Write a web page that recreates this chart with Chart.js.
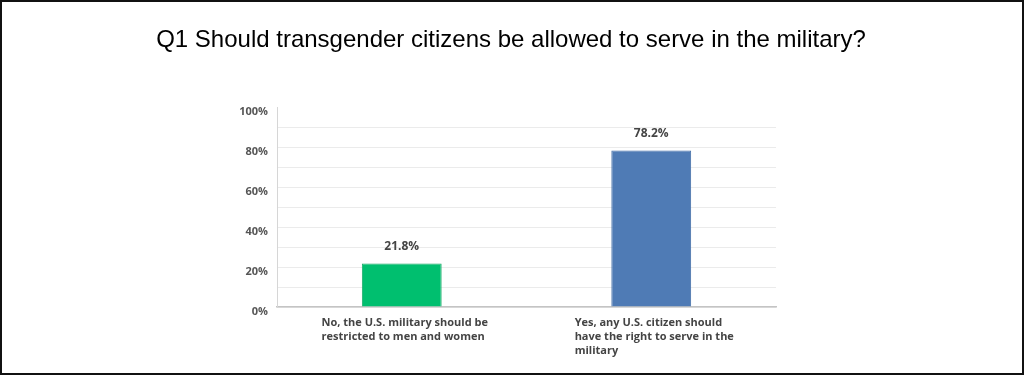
<!DOCTYPE html>
<html>
<head>
<meta charset="utf-8">
<script src="https://cdn.jsdelivr.net/npm/chart.js@4"></script>
<style>
  html, body { margin: 0; padding: 0; background: #fff; }
  #wrap { position: relative; width: 1024px; height: 375px; box-sizing: border-box; border: 2px solid #111; }
  canvas { position: absolute; left: -2px; top: -2px; }
</style>
</head>
<body>
<div id="wrap"><canvas id="chart" width="1024" height="375"></canvas></div>
<script>
// chart data
const titleText = "Q1 Should transgender citizens be allowed to serve in the military?";
const categories = [
  ["No, the U.S. military should be", "restricted to men and women"],
  ["Yes, any U.S. citizen should", "have the right to serve in the", "military"]
];
const values = [21.8, 78.2];
const barColors = ["#00bf6f", "#4f7bb5"];
const barBorders = ["#16a765", "#416da6"];
const yTicks = [0, 20, 40, 60, 80, 100];

const labelFamily = "'Open Sans', 'Liberation Sans', sans-serif";
const tickFont = { family: labelFamily, size: 11, weight: "bold" };

// title across the whole canvas (the built-in one gets squeezed by the side padding)
const titlePlugin = {
  id: "bigTitle",
  afterDraw(chart) {
    const ctx = chart.ctx;
    ctx.save();
    ctx.font = "24px Arial, 'Liberation Sans', sans-serif";
    ctx.fillStyle = "#000";
    ctx.textAlign = "center";
    ctx.textBaseline = "middle";
    ctx.fillText(titleText, chart.width / 2 - 1, 40);
    ctx.restore();
  }
};

// value labels above the bars + left aligned category labels
const labelsPlugin = {
  id: "labels",
  afterDatasetsDraw(chart) {
    const ctx = chart.ctx;
    const meta = chart.getDatasetMeta(0);
    ctx.save();
    ctx.font = "bold 12px " + labelFamily;
    ctx.fillStyle = "#444";
    ctx.textAlign = "center";
    ctx.textBaseline = "bottom";
    meta.data.forEach((bar, i) => {
      ctx.fillText(values[i].toFixed(1) + "%", bar.x, bar.y - 11);
    });

    const xScale = chart.scales.x;
    ctx.font = "bold 11px " + labelFamily;
    ctx.fillStyle = "#444";
    ctx.textAlign = "left";
    ctx.textBaseline = "top";
    categories.forEach((lines, i) => {
      const cx = xScale.getPixelForValue(i);
      const w = Math.max(...lines.map(l => ctx.measureText(l).width));
      lines.forEach((l, j) => {
        ctx.fillText(l, cx - w / 2 + 3, xScale.top + 10 + j * 14);
      });
    });
    ctx.restore();
  }
};

new Chart(document.getElementById("chart"), {
  type: "bar",
  data: {
    labels: categories,
    datasets: [{
      data: values,
      backgroundColor: barColors,
      borderColor: barBorders,
      borderWidth: 1,
      categoryPercentage: 1,
      barPercentage: 0.32
    }]
  },
  options: {
    responsive: false,
    animation: false,
    layout: { padding: { left: 230, right: 248, top: 107, bottom: 8 } },
    plugins: {
      legend: { display: false },
      tooltip: { enabled: false },
      title: { display: false }
    },
    scales: {
      x: {
        grid: { display: false },
        border: { display: true, color: "#c4c4c4", width: 1.5 },
        ticks: { display: false },
        afterFit(scale) { scale.height = 60; }
      },
      y: {
        min: 0,
        max: 100,
        afterFit(scale) { scale.width = 47; },
        border: { display: true, color: "#d6d6d6" },
        grid: {
          drawTicks: false,
          color: ctx => (ctx.tick && ctx.tick.value === 100) ? "rgba(0,0,0,0)" : "#ebebeb"
        },
        ticks: {
          stepSize: 10,
          padding: 9,
          labelOffset: 5,
          color: "#555",
          font: tickFont,
          callback: v => yTicks.includes(v) ? v + "%" : ""
        }
      }
    }
  },
  plugins: [labelsPlugin, titlePlugin]
});
</script>
</body>
</html>
